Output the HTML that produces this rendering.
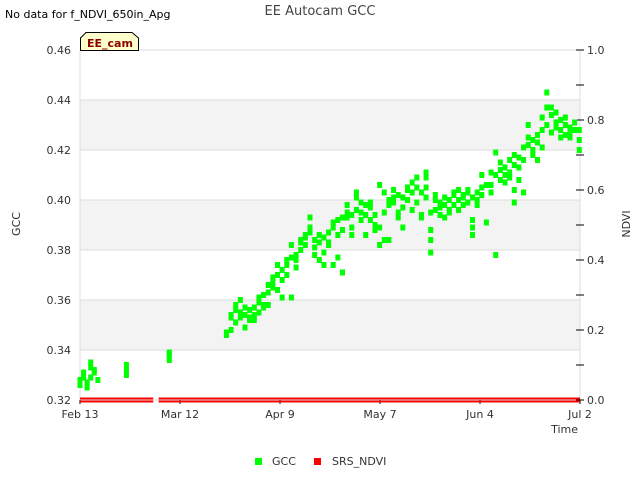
<!DOCTYPE html>
<html><head><meta charset="utf-8"><style>
body{margin:0;background:#fff;font-family:"Liberation Sans","DejaVu Sans",sans-serif;}
svg text{font-family:"DejaVu Sans","Liberation Sans",sans-serif;}
</style></head><body>
<svg id="c" width="640" height="480" viewBox="0 0 640 480" xmlns="http://www.w3.org/2000/svg">
<text x="5" y="18" font-size="11" fill="#000">No data for f_NDVI_650in_Apg</text>
<text x="320" y="15" font-size="13" fill="#444" text-anchor="middle">EE Autocam GCC</text>
<g id="plot"></g>
<text x="20" y="224" font-size="11" fill="#333" text-anchor="middle" transform="rotate(-90 20 224)">GCC</text>
<text x="630" y="224" font-size="11" fill="#333" text-anchor="middle" transform="rotate(-90 630 224)">NDVI</text>
<text x="578" y="433" font-size="11" fill="#333" text-anchor="end">Time</text>
<g>
<path d="M80.5,50.5 L80.5,38 L86,32.5 L132,32.5 L138.5,38 L138.5,50.5 Z" fill="#ffffcc" stroke="#000" stroke-width="1"/>
<text x="87" y="47" font-size="11" font-weight="bold" fill="#8b0000">EE_cam</text>
</g>
<g>
<rect x="255" y="458" width="7" height="7" fill="#00ff00"/>
<text x="272" y="465" font-size="11" fill="#333">GCC</text>
<rect x="314" y="458" width="7" height="7" fill="#ff0000"/>
<text x="332" y="465" font-size="11" fill="#333">SRS_NDVI</text>
</g>
</svg>
<script>
const yTicks=[0.32,0.34,0.36,0.38,0.40,0.42,0.44,0.46];
const y2Ticks=[0,0.2,0.4,0.6,0.8,1.0];
const xTickDays=[0,28,56,84,112,140];
const xTickLabels=["Feb 13","Mar 12","Apr 9","May 7","Jun 4","Jul 2"];
const ndviDays=[[0,20.5],[22,140]];
const ndviValues=[0,0];
const gccDays=[0,1,2,3,4,5,13,25,41,42.3,43.6,44.9,46.2,47.5,48.8,50.1,51.4,52.7,54,55.3,56.6,57.9,59.2,60.5,61.8,63.1,64.4,65.7,67,68.3,69.6,70.9,72.2,73.5,74.8,76.1,77.4,78.7,80,81.3,82.6,83.9,85.2,86.5,87.8,89.1,90.4,91.7,93,94.3,95.6,96.9,98.2,99.5,100.8,102.1,103.4,104.7,106,107.3,108.6,109.9,111.2,112.5,113.8,115.1,116.4,117.7,119,120.3,121.6,122.9,124.2,125.5,126.8,128.1,129.4,130.7,132,133.3,134.6,135.9,137.2,138.5,139.8];
const gccValues=[[.326,.328],[.331,.329],[.325,.327],[.335,.333,.329],[.332,.331],[.328],[.330,.332,.334],[.336,.338,.339],
[.346,.347],[.348,.353,.354],[.356,.358,.351],[.360,.355,.353],[.349,.357,.354],[.352,.356,.353],[.354,.357,.352],[.355,.359,.361],[.358,.362,.357],[.363,.366,.358],[.367,.369,.365],[.364,.370,.374],[.368,.372,.361],[.376,.374,.370],[.377,.382,.361],[.373,.378,.376],[.380,.383,.384],[.382,.386,.385],[.389,.387,.393],[.384,.378,.381],[.386,.376,.383],[.374,.379,.385],[.387,.383,.382],[.389,.391,.374],[.392,.377,.386],[.371,.393,.388],[.395,.398,.393],[.389,.386,.394],[.401,.403,.396],[.399,.395,.392],[.398,.386,.394],[.397,.392,.399],[.390,.388,.394],[.382,.389,.406],[.395,.384,.403],[.398,.400,.384],[.401,.404,.399],[.402,.395,.393],[.397,.389,.401],[.400,.404,.405],[.396,.403,.407],[.399,.409,.405],[.403,.394,.393],[.405,.401,.411,.409],[.384,.379,.388,.395],[.400,.396,.402],[.397,.394,.399],[.398,.393,.401],[.396,.400,.395],[.403,.398,.402],[.396,.400,.404],[.402,.398,.401],[.404,.399,.403],[.392,.386,.389,.401],[.400,.398,.403],[.410,.405,.402],[.391,.406],[.411,.406,.403],[.378,.419,.410],[.415,.412,.408],[.410,.407,.413],[.416,.411,.409],[.418,.414,.404,.399],[.413,.417,.408],[.421,.416,.403],[.425,.430,.422],[.424,.420,.418],[.426,.423,.416],[.433,.428,.421],[.437,.443,.430],[.437,.434,.427],[.435,.431,.429],[.432,.428,.425],[.433,.430,.426],[.429,.427,.425],[.431,.428],[.420,.424,.428]];
const NS='http://www.w3.org/2000/svg';
const L=80,R=580,T=50,B=400;
const xs=d=>L+(d/140)*(R-L);
const ys=v=>B-(v-0.32)/0.14*(B-T);
const ys2=v=>B-v*(B-T);
const g=document.getElementById('plot');
function mk(tag,a){const e=document.createElementNS(NS,tag);for(const k in a)e.setAttribute(k,a[k]);g.appendChild(e);return e;}
for(let i=0;i<yTicks.length-1;i++){if(i%2==1){const b=mk('rect',{x:L,y:ys(yTicks[i+1]),width:R-L,height:ys(yTicks[i])-ys(yTicks[i+1]),fill:'#f3f3f3'});

}}
yTicks.forEach(v=>{const l=mk('line',{x1:L,x2:R,y1:ys(v),y2:ys(v),stroke:'#dddddd','stroke-width':1});


const t=mk('text',{x:71,y:ys(v)+4,'font-size':11,fill:'#333','text-anchor':'end'});t.textContent=v.toFixed(2);

});
mk('line',{x1:L,x2:L,y1:T,y2:B,stroke:'#dddddd'});
mk('line',{x1:R,x2:R,y1:T,y2:B,stroke:'#dddddd'});
for(let k=0;k<=10;k++){const v=k/10;mk('line',{x1:R-4,x2:R+4,y1:ys2(v),y2:ys2(v),stroke:'#000'});}
y2Ticks.forEach(v=>{const t=mk('text',{x:587,y:ys2(v)+4,'font-size':11,fill:'#333'});t.textContent=v.toFixed(1);

});
xTickDays.forEach((d,i)=>{mk('line',{x1:xs(d),x2:xs(d),y1:B,y2:B+4,stroke:'#000'});
const t=mk('text',{x:xs(d),y:418,'font-size':11,fill:'#333','text-anchor':'middle'});t.textContent=xTickLabels[i];

});
ndviDays.forEach((s,i)=>{[-1.5,1.5].forEach(off=>{const l=mk('line',{x1:xs(s[0]),x2:xs(s[1]),y1:ys2(ndviValues[i])+off,y2:ys2(ndviValues[i])+off,stroke:'#ff0000','stroke-width':2});

});});
gccDays.forEach((d,i)=>{gccValues[i].forEach(v=>{const r=mk('rect',{x:xs(d)-2.5,y:ys(v)-3,width:5,height:6,fill:'#00ff00'});

});});
</script>
</body></html>
